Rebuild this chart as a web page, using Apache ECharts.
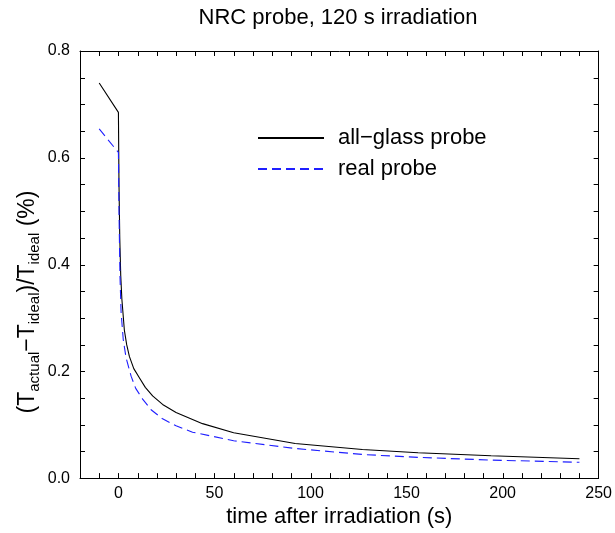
<!DOCTYPE html>
<html>
<head>
<meta charset="utf-8">
<script src="https://cdn.jsdelivr.net/npm/echarts@6/dist/echarts.min.js"></script>
<style>
html,body{margin:0;padding:0;background:#fff;}
#c{width:615px;height:533px;}
</style>
</head>
<body>
<div id="c"></div>
<script>
// ---- data ----
const seriesNames = ['all\u2212glass probe', 'real probe'];

const glassX = [-10, 0, 0.3, 0.7, 1.2, 1.8, 3.1, 4.3, 5.7, 8, 10.9, 14, 17.8, 23, 30, 43.8, 60, 92, 127, 156, 194, 240];
const glassY = [0.740, 0.685, 0.55, 0.45, 0.38, 0.335, 0.277, 0.25, 0.228, 0.205, 0.188, 0.170, 0.154, 0.138, 0.123, 0.102, 0.085, 0.0647, 0.0536, 0.0474, 0.042, 0.0363];

const realX = [-10, 0, 0.3, 0.8, 1.4, 2.5, 4, 6.6, 9, 12.6, 17, 23, 30, 38.6, 60, 92, 127, 156, 194, 240];
const realY = [0.654, 0.610, 0.50, 0.38, 0.31, 0.26, 0.225, 0.191, 0.168, 0.148, 0.128, 0.111, 0.098, 0.086, 0.070, 0.0555, 0.0443, 0.0388, 0.0338, 0.0296];

const xTickValues = [0, 50, 100, 150, 200, 250];
const yTickValues = [0, 0.2, 0.4, 0.6, 0.8];
const yTickLabels = ['0.0', '0.2', '0.4', '0.6', '0.8'];

const titleText = 'NRC probe, 120 s irradiation';
const xTitle = 'time after irradiation (s)';

// ---- chart ----
const FONT = '"Liberation Sans", Arial, Helvetica, sans-serif';
const X_MIN = -20, X_MAX = 250, Y_MIN = 0, Y_MAX = 0.8;
const TICK_LEN = 5;
const chart = echarts.init(document.getElementById('c'), null, {renderer: 'canvas'});

const glassData = glassX.map((x, i) => [x, glassY[i]]);
const realData = realX.map((x, i) => [x, realY[i]]);

// tick positions every 10 s along x and every 0.05 along y (inner ticks on all four sides)
const tickData = [];
for (let v = -10; v < X_MAX; v += 10) tickData.push([v, Y_MIN, 0]);
for (let k = 1; k < 16; k++) tickData.push([X_MIN, Math.round(k * 5) / 100, 1]);

function xLabel(v) {
  const r = Math.round(v);
  return xTickValues.indexOf(r) >= 0 && Math.abs(r - v) < 1e-6 ? String(r) : '';
}
function yLabel(v) {
  for (let i = 0; i < yTickValues.length; i++) {
    if (Math.abs(yTickValues[i] - v) < 1e-6) return yTickLabels[i];
  }
  return '';
}

function axisLine() { return {show: true, onZero: false, lineStyle: {color: '#000', width: 1}}; }

function renderTick(params, api) {
  const cs = params.coordSys;
  const st = {stroke: '#000', lineWidth: 1};
  if (api.value(2) === 0) {
    const px = Math.round(api.coord([api.value(0), Y_MIN])[0]) + 0.5;
    const b = cs.y + cs.height, t = cs.y;
    return {type: 'group', children: [
      {type: 'line', shape: {x1: px, y1: b, x2: px, y2: b - TICK_LEN}, style: st},
      {type: 'line', shape: {x1: px, y1: t, x2: px, y2: t + TICK_LEN}, style: st}
    ]};
  }
  const py = Math.round(api.coord([X_MIN, api.value(1)])[1]) + 0.5;
  const l = cs.x, r = cs.x + cs.width;
  return {type: 'group', children: [
    {type: 'line', shape: {x1: l, y1: py, x2: l + TICK_LEN, y2: py}, style: st},
    {type: 'line', shape: {x1: r, y1: py, x2: r - TICK_LEN, y2: py}, style: st}
  ]};
}

const option = {
  backgroundColor: '#fff',
  animation: false,
  title: {
    text: titleText,
    left: 338,
    textAlign: 'center',
    top: 7,
    padding: 0,
    textStyle: {fontFamily: FONT, fontSize: 22, fontWeight: 'normal', color: '#000'}
  },
  grid: {left: 80, right: 14, top: 51, bottom: 50},
  legend: {
    data: seriesNames,
    orient: 'vertical',
    left: 252,
    top: 121,
    itemWidth: 66,
    itemHeight: 14,
    itemGap: 7,
    itemStyle: {opacity: 0, borderWidth: 0},
    textStyle: {fontFamily: FONT, fontSize: 22, color: '#000', lineHeight: 24, padding: [0, 0, 0, 9]}
  },
  xAxis: [
    {
      type: 'value', min: X_MIN, max: X_MAX, interval: 10,
      axisLine: axisLine(), axisTick: {show: false}, splitLine: {show: false},
      axisLabel: {formatter: xLabel, margin: 7, fontFamily: FONT, fontSize: 16, color: '#000', showMaxLabel: true},
      name: xTitle, nameLocation: 'middle', nameGap: 24,
      nameTextStyle: {fontFamily: FONT, fontSize: 22, color: '#000'}
    },
    {
      type: 'value', min: X_MIN, max: X_MAX, interval: 10, position: 'top',
      axisLine: axisLine(), axisTick: {show: false}, splitLine: {show: false},
      axisLabel: {show: false}
    }
  ],
  yAxis: [
    {
      type: 'value', min: Y_MIN, max: Y_MAX, interval: 0.05,
      axisLine: axisLine(), axisTick: {show: false}, splitLine: {show: false},
      axisLabel: {formatter: yLabel, margin: 10, fontFamily: FONT, fontSize: 16, color: '#000'}
    },
    {
      type: 'value', min: Y_MIN, max: Y_MAX, interval: 0.05, position: 'right',
      axisLine: axisLine(), axisTick: {show: false}, splitLine: {show: false},
      axisLabel: {show: false}
    }
  ],
  series: [
    {
      name: seriesNames[0], type: 'line', data: glassData,
      xAxisIndex: 0, yAxisIndex: 0,
      symbol: 'none', showSymbol: false,
      lineStyle: {color: '#000', width: 1.1, type: 'solid'},
      itemStyle: {color: '#000'}
    },
    {
      name: seriesNames[1], type: 'line', data: realData,
      xAxisIndex: 0, yAxisIndex: 0,
      symbol: 'none', showSymbol: false,
      lineStyle: {color: '#1f1fff', width: 1.1, type: [9, 5]},
      itemStyle: {color: '#1f1fff'}
    },
    {
      name: 'ticks', type: 'custom', data: tickData,
      xAxisIndex: 0, yAxisIndex: 0,
      renderItem: renderTick, clip: false, silent: true, z: 5
    }
  ],
  graphic: [
    {
      type: 'text',
      x: 28, y: 302,
      rotation: Math.PI / 2,
      style: {
        text: '{m|(T}{s|actual}{m|\u2212T}{s|ideal}{m|)/T}{s|ideal}{m| (%)}',
        align: 'center',
        verticalAlign: 'middle',
        fill: '#000',
        rich: {
          m: {fontFamily: FONT, fontSize: 23, lineHeight: 28, fill: '#000', color: '#000'},
          s: {fontFamily: FONT, fontSize: 15, lineHeight: 14, verticalAlign: 'bottom', fill: '#000', color: '#000'}
        }
      }
    }
  ]
};
chart.setOption(option);
</script>
</body>
</html>
